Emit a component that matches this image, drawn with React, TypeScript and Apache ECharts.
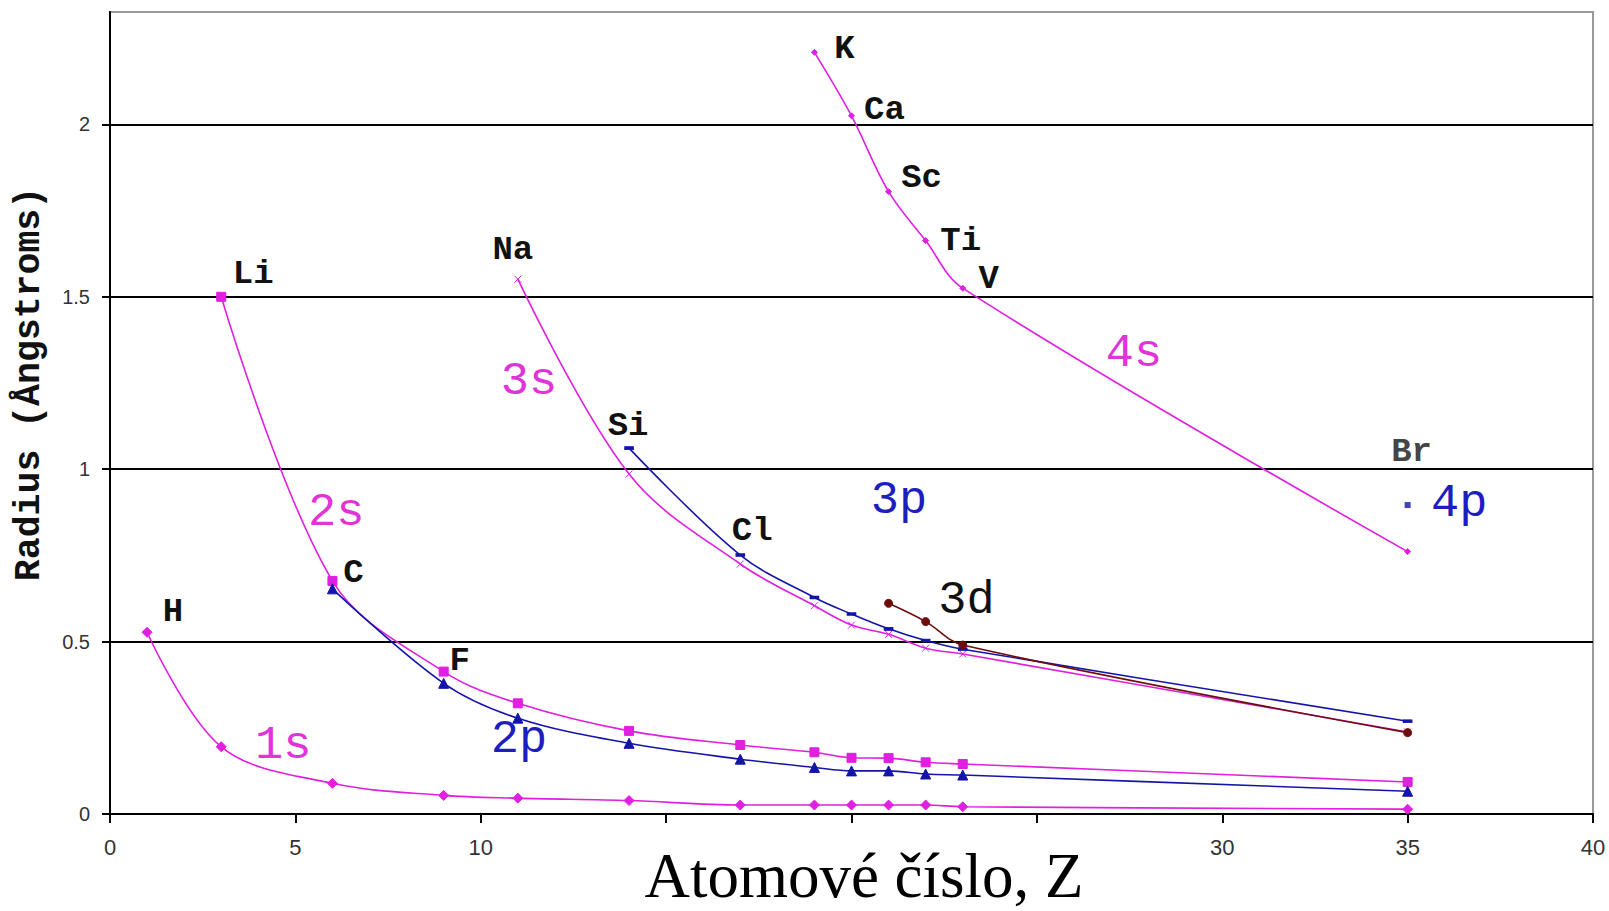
import React, { useEffect, useRef } from "react";
import * as echarts from "echarts";

// ---- data (atomic number Z, radius in Å) ----
const Z_1s = [1, 3, 6, 9, 11, 14, 17, 19, 20, 21, 22, 23, 35];
const R_1s = [0.527, 0.195, 0.089, 0.054, 0.046, 0.039, 0.026, 0.026, 0.026, 0.026, 0.026, 0.021, 0.014];
const EL_1s = ["H", "", "", "", "", "", "", "", "", "", "", "", ""];

const Z_2s = [3, 6, 9, 11, 14, 17, 19, 20, 21, 22, 23, 35];
const R_2s = [1.5, 0.676, 0.413, 0.321, 0.241, 0.2, 0.179, 0.163, 0.162, 0.15, 0.145, 0.093];
const EL_2s = ["Li", "C", "F", "", "", "", "", "", "", "", "", ""];

const Z_2p = [6, 9, 11, 14, 17, 19, 20, 21, 22, 23, 35];
const R_2p = [0.653, 0.379, 0.278, 0.205, 0.159, 0.135, 0.125, 0.125, 0.116, 0.113, 0.066];

const Z_3s = [11, 14, 17, 19, 20, 21, 22, 23, 35];
const R_3s = [1.551, 0.986, 0.725, 0.604, 0.548, 0.521, 0.481, 0.464, 0.238];
const EL_3s = ["Na", "", "", "", "", "", "", "", ""];

const Z_3p = [14, 17, 19, 20, 21, 22, 23, 35];
const R_3p = [1.061, 0.751, 0.628, 0.58, 0.537, 0.503, 0.478, 0.269];
const EL_3p = ["Si", "Cl", "", "", "", "", "", ""];

const Z_3d = [21, 22, 23, 35];
const R_3d = [0.611, 0.558, 0.49, 0.236];

const Z_4s = [19, 20, 21, 22, 23, 35];
const R_4s = [2.209, 2.025, 1.805, 1.663, 1.525, 0.761];
const EL_4s = ["K", "Ca", "Sc", "Ti", "V", ""];

const Z_4p = [35];
const R_4p = [0.896];
const EL_4p = ["Br"];

const X_TICKS_HIDDEN = [15, 20, 25];

// ---- layout (pixel offsets of element labels, positions of orbital tags) ----
const EL_OFFSET: Record<string, [number, number]> = {
  H: [26, -20],
  Li: [32, -23],
  C: [21, -8],
  F: [16, -11],
  Na: [-5, -29],
  Si: [-1, -22],
  Cl: [12, -24],
  K: [30, -3],
  Ca: [33, -6],
  Sc: [33, -14],
  Ti: [35, 0],
  V: [26, -9],
  Br: [4, -53],
};

const MAGENTA = "#E01FE0";
const MAGENTA_TXT = "#E033D8";
const BLUE = "#1414A8";
const BLUE_TXT = "#1E1EC0";
const BROWN = "#6E0C0C";

const MONO = "'Liberation Mono', 'DejaVu Sans Mono', monospace";

function pts(z: number[], r: number[], el?: string[]) {
  return z.map((zz, i) => {
    const name = el ? el[i] : "";
    const item: any = { value: [zz, r[i]] };
    if (name) {
      item.label = {
        show: true,
        formatter: name,
        position: "inside",
        align: "center",
        verticalAlign: "middle",
        offset: EL_OFFSET[name],
        color: "#111",
        fontFamily: MONO,
        fontWeight: "bold",
        fontSize: 34,
      };
    }
    return item;
  });
}

function tag(text: string, coord: [number, number], color: string) {
  return {
    symbol: "circle",
    symbolSize: 1,
    itemStyle: { color: "rgba(0,0,0,0)" },
    data: [
      {
        coord,
        label: {
          show: true,
          formatter: text,
          position: "inside",
          align: "center",
          verticalAlign: "middle",
          color,
          fontFamily: MONO,
          fontSize: 47,
        },
      },
    ],
  };
}

function lineSeries(
  name: string,
  data: any[],
  color: string,
  symbol: string,
  symbolSize: any,
  markPoint?: any,
  z = 2
) {
  return {
    name,
    type: "line",
    data,
    smooth: 0.35,
    symbol,
    symbolSize,
    z,
    lineStyle: { color, width: 1.6 },
    itemStyle: { color, borderColor: color },
    markPoint,
  };
}

export default function App() {
  const ref = useRef<HTMLDivElement>(null);

  useEffect(() => {
    if (!ref.current) return;
    const chart = echarts.init(ref.current, undefined, { renderer: "svg" });
    const option: any = {
      animation: false,
      backgroundColor: "#ffffff",
      grid: {
        left: 110,
        right: 16,
        top: 12,
        bottom: 97,
        show: true,
        borderColor: "#9a9a9a",
        borderWidth: 2,
      },
      xAxis: {
        type: "value",
        min: 0,
        max: 40,
        interval: 5,
        axisLine: { show: true, lineStyle: { color: "#000", width: 2 } },
        axisTick: { show: true, length: 9, lineStyle: { color: "#000", width: 2 } },
        axisLabel: {
          margin: 22,
          color: "#333",
          fontFamily: "'Liberation Sans Narrow', 'Liberation Sans', Arial, sans-serif",
          fontSize: 22,
          formatter: (v: number) => (X_TICKS_HIDDEN.includes(v) ? "" : String(v)),
        },
        splitLine: { show: false },
      },
      yAxis: {
        type: "value",
        min: 0,
        max: 2.326,
        interval: 0.5,
        axisLine: { show: true, lineStyle: { color: "#000", width: 2 } },
        axisTick: { show: true, length: 8, lineStyle: { color: "#000", width: 2 } },
        axisLabel: {
          margin: 20,
          color: "#333",
          fontFamily: "'Liberation Sans Narrow', 'Liberation Sans', Arial, sans-serif",
          fontSize: 20,
          showMaxLabel: false,
        },
        splitLine: {
          show: true,
          showMaxLine: false,
          lineStyle: { color: "#000", width: 2 },
        },
      },
      graphic: [
        {
          type: "text",
          x: 29,
          y: 384,
          rotation: Math.PI / 2,
          style: {
            text: "Radius (Ångstroms)",
            fontFamily: MONO,
            fontWeight: "bold",
            fontSize: 36.5,
            fill: "#111",
            align: "center",
            verticalAlign: "middle",
          },
        },
        {
          type: "text",
          x: 864,
          y: 876,
          style: {
            text: "Atomové číslo, Z",
            fontFamily: "'Liberation Serif', 'Times New Roman', serif",
            fontSize: 63,
            fill: "#000",
            align: "center",
            verticalAlign: "middle",
          },
        },
      ],
      series: [
        lineSeries("1s", pts(Z_1s, R_1s, EL_1s), MAGENTA, "diamond", 10, tag("1s", [4.67, 0.2], MAGENTA_TXT)),
        lineSeries("2s", pts(Z_2s, R_2s, EL_2s), MAGENTA, "rect", 9, tag("2s", [6.1, 0.875], MAGENTA_TXT)),
        lineSeries("2p", pts(Z_2p, R_2p), BLUE, "triangle", 10, tag("2p", [11.03, 0.215], BLUE_TXT), 3),
        lineSeries(
          "3s",
          pts(Z_3s, R_3s, EL_3s),
          MAGENTA,
          "path://M0,0L10,10M10,0L0,10",
          7,
          tag("3s", [11.3, 1.255], MAGENTA_TXT)
        ),
        lineSeries("3p", pts(Z_3p, R_3p, EL_3p), BLUE, "rect", [8, 3], tag("3p", [21.28, 0.91], BLUE_TXT), 3),
        lineSeries("3d", pts(Z_3d, R_3d), BROWN, "circle", 8, tag("3d", [23.1, 0.62], "#111"), 4),
        lineSeries("4s", pts(Z_4s, R_4s, EL_4s), MAGENTA, "diamond", 6, tag("4s", [27.62, 1.335], MAGENTA_TXT)),
        {
          name: "4p",
          type: "scatter",
          data: pts(Z_4p, R_4p, EL_4p),
          symbol: "rect",
          symbolSize: 6,
          itemStyle: { color: BLUE },
          markPoint: tag("4p", [36.39, 0.9], BLUE_TXT),
        },
      ],
    };
    chart.setOption(option);
    return () => chart.dispose();
  }, []);

  return (
    <div
      ref={ref}
      style={{ position: "absolute", left: 0, top: 0, width: 1609, height: 911, background: "#fff" }}
    />
  );
}
